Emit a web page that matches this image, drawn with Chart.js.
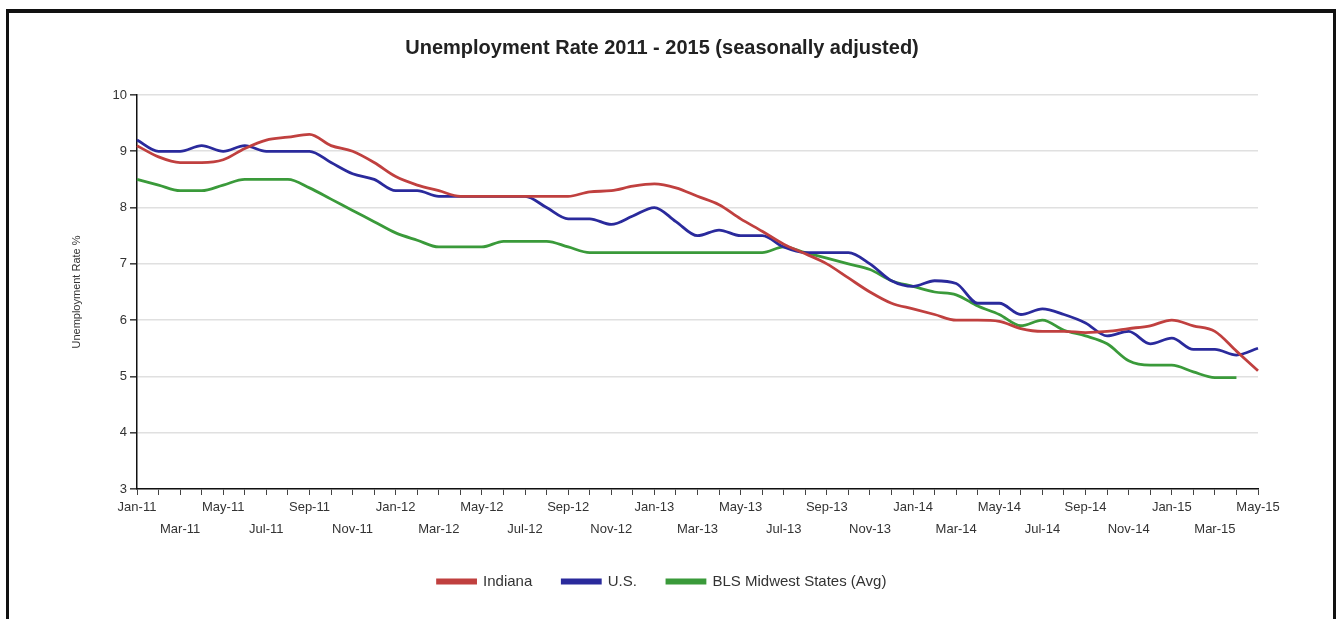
<!DOCTYPE html>
<html>
<head>
<meta charset="utf-8">
<script src="https://cdn.jsdelivr.net/npm/chart.js@4.4.1/dist/chart.umd.min.js"></script>
<style>
  html, body { margin: 0; padding: 0; background: #fff; }
  body { width: 1338px; height: 619px; position: relative; overflow: hidden; }
  #frame {
    position: absolute; left: 6px; top: 9px; width: 1324px; height: 700px;
    border: 3px solid #111; border-top-width: 4px;
  }
  #wrap { position: absolute; left: 0; top: 0; width: 1338px; height: 619px; }
</style>
</head>
<body>
<div id="frame"></div>
<div id="wrap"><canvas id="chart"></canvas></div>
<script>
const months = [
  "Jan-11","Feb-11","Mar-11","Apr-11","May-11","Jun-11","Jul-11","Aug-11","Sep-11","Oct-11","Nov-11","Dec-11",
  "Jan-12","Feb-12","Mar-12","Apr-12","May-12","Jun-12","Jul-12","Aug-12","Sep-12","Oct-12","Nov-12","Dec-12",
  "Jan-13","Feb-13","Mar-13","Apr-13","May-13","Jun-13","Jul-13","Aug-13","Sep-13","Oct-13","Nov-13","Dec-13",
  "Jan-14","Feb-14","Mar-14","Apr-14","May-14","Jun-14","Jul-14","Aug-14","Sep-14","Oct-14","Nov-14","Dec-14",
  "Jan-15","Feb-15","Mar-15","Apr-15","May-15"
];

const indiana = [
  9.1, 8.9, 8.8, 8.8, 8.85, 9.05, 9.2, 9.25, 9.3, 9.1, 9.0, 8.8,
  8.55, 8.4, 8.3, 8.2, 8.2, 8.2, 8.2, 8.2, 8.2, 8.28, 8.3, 8.38,
  8.42, 8.35, 8.2, 8.05, 7.8, 7.58, 7.35, 7.18, 7.0, 6.75, 6.5, 6.3,
  6.2, 6.1, 6.0, 6.0, 5.98, 5.85, 5.8, 5.8, 5.78, 5.8, 5.85, 5.9,
  6.0, 5.9, 5.8, 5.45, 5.1
];

const us = [
  9.2, 9.0, 9.0, 9.1, 9.0, 9.1, 9.0, 9.0, 9.0, 8.8, 8.6, 8.5,
  8.3, 8.3, 8.2, 8.2, 8.2, 8.2, 8.2, 8.0, 7.8, 7.8, 7.7, 7.85,
  8.0, 7.75, 7.5, 7.6, 7.5, 7.5, 7.3, 7.2, 7.2, 7.2, 7.0, 6.7,
  6.6, 6.7, 6.65, 6.3, 6.3, 6.1, 6.2, 6.1, 5.95, 5.72, 5.8, 5.58,
  5.68, 5.48, 5.48, 5.38, 5.5
];

const midwest = [
  8.5, 8.4, 8.3, 8.3, 8.4, 8.5, 8.5, 8.5, 8.35, 8.15, 7.95, 7.75,
  7.55, 7.42, 7.3, 7.3, 7.3, 7.4, 7.4, 7.4, 7.3, 7.2, 7.2, 7.2,
  7.2, 7.2, 7.2, 7.2, 7.2, 7.2, 7.3, 7.2, 7.1, 7.0, 6.9, 6.7,
  6.6, 6.5, 6.45, 6.25, 6.1, 5.9, 6.0, 5.82, 5.72, 5.58, 5.28, 5.2,
  5.2, 5.08, 4.98, 4.98, null
];

const yTicks = [3, 4, 5, 6, 7, 8, 9, 10];

const colors = { red: "#c0403f", blue: "#2a2a9c", green: "#3a9a3a" };
const FONT = '"Liberation Sans", Arial, sans-serif';

function series(label, data, color) {
  return {
    label,
    data,
    borderColor: color,
    backgroundColor: color,
    borderWidth: 2.8,
    pointRadius: 0,
    cubicInterpolationMode: "monotone",
    spanGaps: false
  };
}

new Chart(document.getElementById("chart"), {
  type: "line",
  data: {
    labels: months,
    datasets: [
      series("Indiana", indiana, colors.red),
      series("U.S.", us, colors.blue),
      series("BLS Midwest States (Avg)", midwest, colors.green)
    ]
  },
  options: {
    responsive: true,
    maintainAspectRatio: false,
    animation: false,
    layout: { padding: { left: 66, right: 80, top: 0, bottom: 20 } },
    plugins: {
      title: {
        display: true,
        text: "Unemployment Rate 2011 - 2015 (seasonally adjusted)",
        color: "#222",
        font: { family: FONT, size: 20, weight: "bold" },
        padding: { top: 36, bottom: 35 }
      },
      legend: {
        position: "bottom",
        labels: {
          color: "#333",
          font: { family: FONT, size: 15 },
          boxWidth: 38,
          boxHeight: 3,
          padding: 30
        }
      },
      tooltip: { enabled: false }
    },
    scales: {
      x: {
        afterFit: s => { s.height = 55; },
        grid: { drawOnChartArea: false, tickColor: "#444", tickLength: 6 },
        border: { display: true, color: "#111", width: 1.5 },
        ticks: {
          autoSkip: false,
          maxRotation: 0,
          minRotation: 0,
          padding: 2,
          color: "#333",
          font: { family: FONT, size: 13, lineHeight: 1.65 },
          callback: (v, i) => i % 4 === 0 ? [months[i], ""] : (i % 4 === 2 ? ["", months[i]] : "")
        }
      },
      y: {
        min: 3,
        max: 10,
        afterFit: s => { s.width = 71; },
        afterBuildTicks: s => { s.ticks = yTicks.map(v => ({ value: v })); },
        grid: { color: "#e0e0e0", lineWidth: 1.6, tickColor: "#444", tickLength: 7 },
        border: { display: true, color: "#111", width: 1.5 },
        ticks: { color: "#333", padding: 3, font: { family: FONT, size: 13 } },
        title: {
          display: true,
          text: "Unemployment Rate %",
          color: "#333",
          font: { family: FONT, size: 11 },
          padding: 4
        }
      }
    }
  }
});
</script>
</body>
</html>
